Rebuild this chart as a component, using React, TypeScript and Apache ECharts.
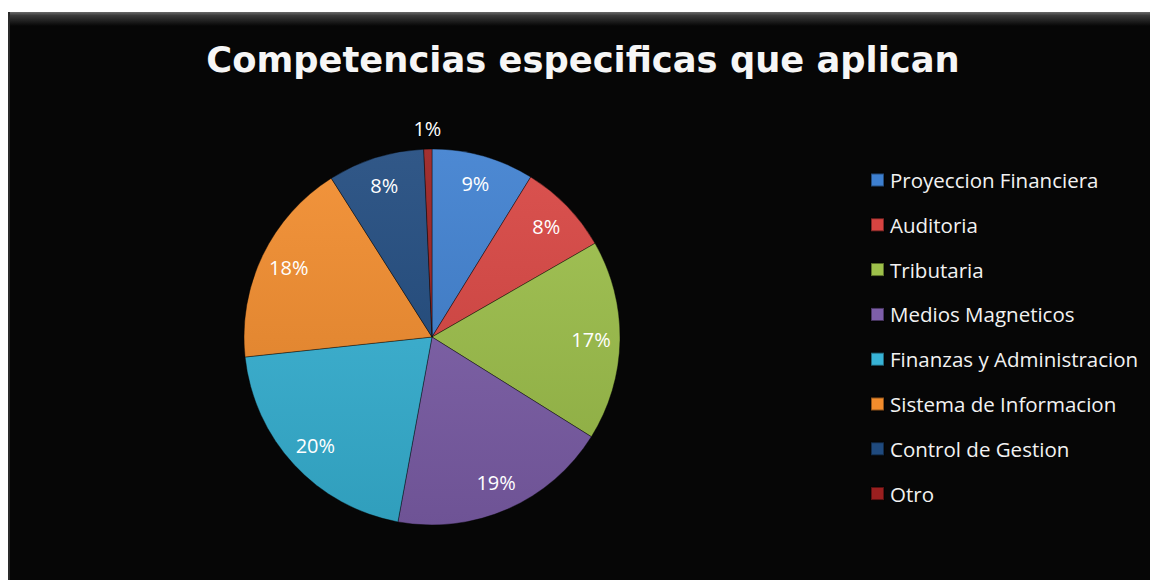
import React, { useEffect, useRef } from "react";
import * as echarts from "echarts";

const categories = [
  "Proyeccion Financiera",
  "Auditoria",
  "Tributaria",
  "Medios Magneticos",
  "Finanzas y Administracion",
  "Sistema de Informacion",
  "Control de Gestion",
  "Otro",
];
const values = [8.8, 7.9, 17.2, 19.0, 20.4, 17.7, 8.3, 0.7];
const colors = ["#3d7fcf", "#d84441", "#9dc04a", "#7d5ea9", "#37b3d6", "#f28c2c", "#1f4a7e", "#9a1f1f"];
const titleText = "Competencias especificas que aplican";

function shade(hex: string, f: number) {
  const n = parseInt(hex.slice(1), 16);
  let r = (n >> 16) & 255, g = (n >> 8) & 255, b = n & 255;
  const t = f < 0 ? 0 : 255;
  const p = Math.abs(f);
  r = Math.round((t - r) * p + r);
  g = Math.round((t - g) * p + g);
  b = Math.round((t - b) * p + b);
  return `rgb(${r},${g},${b})`;
}

export default function App() {
  const ref = useRef<HTMLDivElement>(null);
  useEffect(() => {
    if (!ref.current) return;
    const chart = echarts.init(ref.current, null, { renderer: "svg" });
    const cx = 424;
    const cy = 329;
    const R = 188;
    const baseData = categories.map((name, i) => ({
      name,
      value: values[i],
      itemStyle: {
        color: new echarts.graphic.LinearGradient(
          0, cy - R, 0, cy + R,
          [
            { offset: 0, color: shade(colors[i], 0.08) },
            { offset: 1, color: shade(colors[i], -0.12) },
          ],
          true
        ),
      },
    }));
    const fmt = (p: any) => Math.round(p.percent) + "%";
    const labelFont = "Open Sans";
    chart.setOption({
      animation: false,
      backgroundColor: "transparent",
      color: colors,
      graphic: [
        {
          type: "rect",
          z: -10,
          shape: { x: 0, y: 4, width: 1150, height: 568 },
          style: { fill: "#060606" },
          silent: true,
        },
        {
          type: "rect",
          z: -9,
          shape: { x: 0, y: 4, width: 1150, height: 14 },
          style: {
            fill: new echarts.graphic.LinearGradient(0, 0, 0, 1, [
              { offset: 0, color: "#6a6a6a" },
              { offset: 0.25, color: "#3a3a3a" },
              { offset: 1, color: "#060606" },
            ]),
          },
          silent: true,
        },
        {
          type: "rect",
          z: -9,
          shape: { x: 0, y: 4, width: 2, height: 568 },
          style: { fill: "#2a2a2a" },
          silent: true,
        },
        {
          type: "text",
          left: "center",
          top: 34,
          style: {
            text: titleText,
            fill: "#f6f6f6",
            font: "bold 35.3px 'DejaVu Sans'",
          },
        },
      ],
      legend: {
        orient: "vertical",
        left: 862,
        top: 160,
        padding: 0,
        itemWidth: 13,
        itemHeight: 13,
        itemGap: 20.8,
        icon: "rect",
        data: categories.map((name, i) => ({ name, itemStyle: { color: colors[i] } })),
        selectedMode: false,
        textStyle: {
          color: "#f2f2f2",
          fontSize: 20.5,
          fontFamily: labelFont,
          lineHeight: 24,
          padding: [0, 0, 0, 1],
        },
      },
      series: [
        {
          type: "pie",
          center: [cx, cy],
          radius: [0, R],
          startAngle: 90,
          clockwise: true,
          label: { show: false },
          labelLine: { show: false },
          itemStyle: { borderColor: "rgba(0,0,0,0.4)", borderWidth: 1 },
          data: baseData,
        },
        {
          type: "pie",
          center: [cx, cy],
          radius: [R * 0.66, R],
          startAngle: 90,
          clockwise: true,
          silent: true,
          itemStyle: { color: "transparent" },
          labelLine: { show: false },
          label: {
            show: true,
            position: "inside",
            formatter: fmt,
            color: "#ffffff",
            fontSize: 20,
            fontFamily: labelFont,
          },
          data: categories.map((name, i) => ({
            name,
            value: values[i],
            label: { show: i !== categories.length - 1 },
          })),
        },
        {
          type: "pie",
          center: [cx, cy],
          radius: [R, R + 36],
          startAngle: 90,
          clockwise: true,
          silent: true,
          itemStyle: { color: "transparent" },
          labelLine: { show: false },
          label: {
            show: true,
            position: "inside",
            formatter: fmt,
            color: "#ffffff",
            fontSize: 20,
            fontFamily: labelFont,
          },
          data: categories.map((name, i) => ({
            name,
            value: values[i],
            label: { show: i === categories.length - 1 },
          })),
        },
      ],
    });
    return () => chart.dispose();
  }, []);
  return <div ref={ref} style={{ width: 1150, height: 572 }} />;
}
